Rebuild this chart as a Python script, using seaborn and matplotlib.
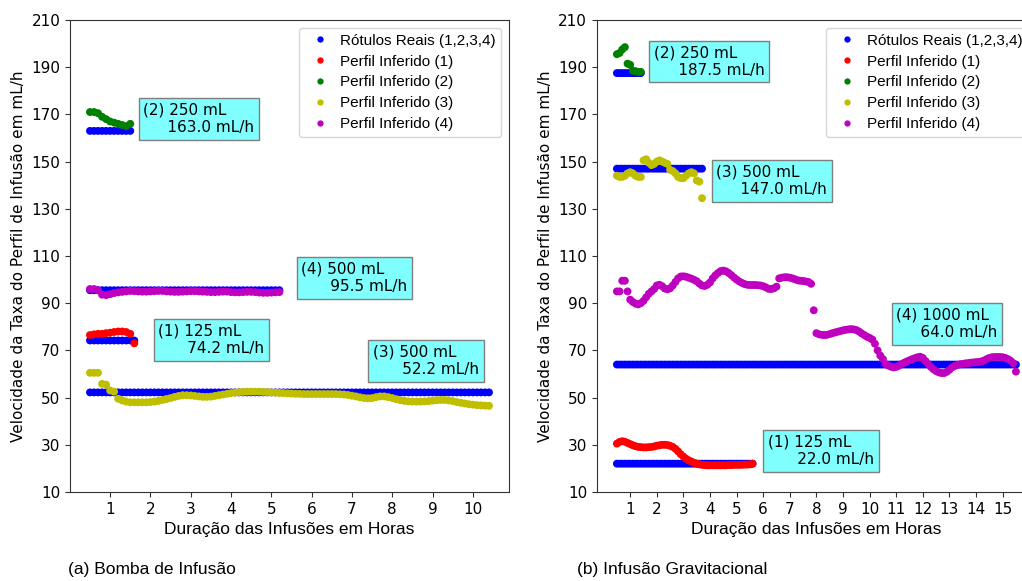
import numpy as np
import pandas as pd
import matplotlib
matplotlib.use("Agg")
import matplotlib.pyplot as plt
import seaborn as sns

# ---------------------------------------------------------------- data
STEP = 0.1          # sampling interval of the profiles (hours)
T0 = 0.5            # first sample (hours)

# (a) Bomba de Infusão -- profiles 1..4
a_volumes = [125, 250, 500, 500]
a_rates = [74.2, 163.0, 52.2, 95.5]           # real rates, mL/h
a_ends = [1.6, 1.5, 10.4, 5.2]                # last sample of each profile, h

a_inf1 = [76.5, 76.8, 77.0, 77.0, 77.3, 77.5, 77.8, 78.0, 78.0, 77.8, 77.0, 73.0]
a_inf2 = [171.0, 171.0, 170.5, 169.0, 168.0, 167.0, 166.5, 166.0, 165.5, 165.0, 166.0]
a_inf3 = [60.5, 60.5, 60.5, 55.8, 55.5, 53.0, 52.5, 49.5, 48.8, 48.3,
          48.0, 48.0, 48.0, 48.0, 48.0, 48.1, 48.3, 48.6, 49.0, 49.4,
          49.8, 50.3, 50.7, 51.0, 51.0, 50.9, 50.7, 50.5, 50.3, 50.3,
          50.4, 50.7, 51.0, 51.3, 51.6, 51.9, 52.1, 52.3, 52.4, 52.5,
          52.5, 52.5, 52.5, 52.4, 52.3, 52.2, 52.1, 52.0, 51.9, 51.8,
          51.7, 51.6, 51.6, 51.5, 51.5, 51.5, 51.5, 51.5, 51.5, 51.5,
          51.5, 51.5, 51.4, 51.3, 51.1, 50.8, 50.5, 50.1, 49.8, 49.7,
          49.8, 50.2, 50.5, 50.5, 50.2, 49.8, 49.3, 48.9, 48.6, 48.4,
          48.3, 48.3, 48.3, 48.4, 48.5, 48.7, 48.9, 49.0, 49.0, 48.8,
          48.5, 48.1, 47.8, 47.5, 47.2, 47.0, 46.8, 46.7, 46.6, 46.5]
a_inf4 = [96.0, 96.0, 95.5, 93.6, 93.4, 93.8, 94.3, 94.6, 94.8, 95.0,
          95.2, 95.1, 95.0, 94.9, 94.9, 95.0, 95.1, 95.2, 95.2, 95.0,
          94.9, 94.8, 94.8, 94.9, 95.0, 95.1, 95.1, 95.0, 94.9, 94.8,
          94.7, 94.7, 94.8, 94.9, 94.9, 94.7, 94.6, 94.6, 94.7, 94.8,
          94.8, 94.7, 94.5, 94.4, 94.4, 94.5, 94.6, 94.7]

# (b) Infusão Gravitacional -- profiles 1..4
b_volumes = [125, 250, 500, 1000]
b_rates = [22.0, 187.5, 147.0, 64.0]
b_ends = [5.6, 1.4, 3.7, 15.5]

b_inf1 = [30.5, 31.2, 31.5, 31.3, 30.8, 30.3, 29.8, 29.4, 29.1, 29.0,
          28.9, 28.9, 29.0, 29.1, 29.3, 29.6, 29.8, 30.0, 30.0, 29.9,
          29.6, 29.1, 28.3, 27.2, 26.0, 25.0, 24.1, 23.4, 22.9, 22.4,
          22.0, 21.7, 21.5, 21.4, 21.3, 21.3, 21.3, 21.3, 21.3, 21.3,
          21.3, 21.3, 21.4, 21.4, 21.5, 21.5, 21.5, 21.5, 21.6, 21.6,
          21.7, 22.0]
b_inf2 = [195.5, 196.0, 197.5, 198.5, 191.5, 191.0, 188.5, 188.3, 188.0, 188.0]
b_inf3 = [144.0, 143.5, 143.5, 144.0, 145.0, 145.5, 145.0, 144.0, 143.5, 143.5,
          150.5, 151.0, 149.5, 148.5, 149.0, 150.0, 150.5, 150.0, 149.5, 149.0,
          146.5, 146.0, 145.0, 143.5, 143.0, 143.0, 144.0, 145.0, 145.5, 145.0,
          142.0, 141.5, 134.5]
b_inf4 = [95.0, 95.0, 99.5, 99.5, 95.0, 91.5, 90.5, 89.8, 89.5, 90.0,
          91.0, 92.5, 94.0, 95.0, 96.0, 97.5, 97.8, 97.2, 96.2, 95.9,
          96.3, 97.5, 99.0, 100.5, 101.3, 101.4, 101.2, 100.8, 100.4, 99.9,
          99.3, 98.3, 97.5, 97.3, 97.8, 98.8, 100.5, 101.8, 102.8, 103.6,
          103.8, 103.5, 102.8, 101.9, 100.9, 100.0, 99.2, 98.6, 98.1, 97.8,
          97.7, 97.7, 97.7, 97.6, 97.5, 97.2, 96.7, 96.1, 96.0, 96.3,
          97.0, 100.5, 100.8, 101.0, 101.0, 100.8, 100.5, 100.1, 99.7, 99.5,
          99.4, 99.2, 99.0, 98.2, 87.0, 77.3, 76.8, 76.6, 76.5, 76.6,
          76.9, 77.3, 77.6, 77.9, 78.2, 78.5, 78.7, 78.9, 79.0, 78.9,
          78.6, 78.0, 77.2, 76.5, 75.8, 75.3, 74.6, 72.8, 70.0, 67.8,
          66.3, 64.2, 63.6, 63.1, 62.8, 63.0, 63.5, 64.2, 64.8, 65.3,
          65.8, 66.3, 66.7, 67.1, 67.3, 66.8, 65.5, 64.2, 63.0, 62.0,
          61.2, 60.7, 60.4, 60.4, 60.9, 61.8, 62.8, 63.4, 63.8, 64.1,
          64.3, 64.5, 64.6, 64.8, 64.9, 65.0, 65.1, 65.3, 65.7, 66.3,
          66.8, 67.1, 67.2, 67.2, 67.2, 67.1, 66.8, 66.3, 65.6, 64.6,
          61.0]

SERIES = ["Rótulos Reais (1,2,3,4)", "Perfil Inferido (1)", "Perfil Inferido (2)",
          "Perfil Inferido (3)", "Perfil Inferido (4)"]
COLORS = ["b", "r", "g", "y", "m"]

# ------------------------------------------------------------- helpers
def sample_times(n):
    return np.round(T0 + STEP * np.arange(n), 2)


def build_frame(rates, ends, inferred):
    rows = []
    # real profiles first so the inferred dots sit on top of them
    for rate, end in zip(rates, ends):
        n = int(round((end - T0) / STEP)) + 1
        for t in sample_times(n):
            rows.append((t, rate, SERIES[0]))
    for k, vals in enumerate(inferred, start=1):
        for t, v in zip(sample_times(len(vals)), vals):
            rows.append((t, v, SERIES[k]))
    return pd.DataFrame(rows, columns=["hora", "taxa", "serie"])


def note_text(idx, vol, rate, indent):
    return f"({idx}) {vol} mL\n{' ' * indent}{rate:.1f} mL/h"


# ---------------------------------------------------------------- figure
fig = plt.figure(figsize=(10.22, 5.81), dpi=100)
ax_a = fig.add_axes([0.0685, 0.1532, 0.4295, 0.8124])
ax_b = fig.add_axes([0.5841, 0.1532, 0.4295, 0.8124])

panels = [
    (ax_a, a_volumes, a_rates, a_ends, [a_inf1, a_inf2, a_inf3, a_inf4],
     [(2.20, 67.6), (1.82, 161.3), (7.52, 58.7), (5.74, 93.9)], [6, 5, 6, 6],
     range(1, 11)),
    (ax_b, b_volumes, b_rates, b_ends, [b_inf1, b_inf2, b_inf3, b_inf4],
     [(6.18, 20.6), (1.88, 185.6), (4.24, 135.0), (11.0, 74.4)], [6, 5, 5, 5],
     range(1, 16)),
]

legend_font = {"family": ["Liberation Sans", "DejaVu Sans"], "size": 11}
label_font = ["Liberation Sans", "DejaVu Sans"]

for ax, vols, rates, ends, inferred, note_xy, indents, xticks in panels:
    df = build_frame(rates, ends, inferred)
    sns.scatterplot(data=df, x="hora", y="taxa", hue="serie", hue_order=SERIES,
                    palette=COLORS, s=32, linewidth=0, ax=ax)
    ax.set_ylim(10, 210)
    ax.set_yticks(range(10, 211, 20))
    ax.set_xticks(list(xticks))
    ax.tick_params(labelsize=11, color="#333333")
    for sp in ax.spines.values():
        sp.set_color("#333333")
    ax.set_ylabel("Velocidade da Taxa do Perfil de Infusão em mL/h", fontsize=11)
    ax.set_xlabel("Duração das Infusões em Horas", fontsize=12.5, family=label_font)

    for i, (vol, rate, (tx, ty), ind) in enumerate(zip(vols, rates, note_xy, indents), start=1):
        ax.text(tx, ty, note_text(i, vol, rate, ind), fontsize=11,
                ha="left", va="bottom",
                bbox=dict(boxstyle="square,pad=0.3", facecolor="#80ffff",
                          edgecolor="#7f7f7f", linewidth=1.0))

    handles, labels = ax.get_legend_handles_labels()
    ax.legend(handles, labels, loc="upper right", prop=legend_font,
              labelspacing=0.45, handletextpad=0.25, handlelength=2.0,
              borderpad=0.4, markerscale=0.8)

fig.text(0.067, 0.019, "(a) Bomba de Infusão", fontsize=12.5,
         family=label_font, ha="left", va="center")
fig.text(0.565, 0.019, "(b) Infusão Gravitacional", fontsize=12.5,
         family=label_font, ha="left", va="center")

fig.savefig("out.png", dpi=100)
